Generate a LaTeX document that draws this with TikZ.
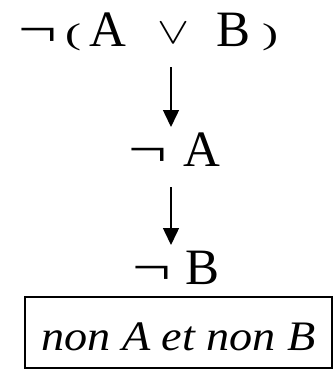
\RequirePackage{fix-cm}
\documentclass[tikz,border=0pt]{standalone}
\usepackage{fontspec}
\setmainfont{LiberationSerif}[Extension=.ttf,UprightFont=*-Regular,ItalicFont=*-Italic,BoldFont=*-Bold]
\usetikzlibrary{arrows.meta}
\begin{document}
\begin{tikzpicture}[x=1pt,y=-1pt,
  big/.style={inner sep=0pt,anchor=base,font=\fontsize{51}{51}\selectfont},
  par/.style={inner sep=0pt,anchor=base,font=\fontsize{30}{30}\selectfont},
  arr/.style={line width=1.5pt,-{Triangle[length=17pt,width=16pt]}},
  boxst/.style={draw,line width=1.5pt,inner sep=0pt,text height=53pt,text depth=18pt,minimum width=307pt}]
\useasboundingbox (0,0) rectangle (334,370);
% top line
\node[big] (neg0) at (38,46) {\scalebox{1.35}[1]{¬}};
\node[par] (lp) at (73,44) {\scalebox{1.6}[1]{(}};
\node[big] (tA) at (108,46) {A};
\node[inner sep=0pt,anchor=base,font=\fontsize{37}{37}\selectfont] (vee) at (173.5,43) {\scalebox{1.3}[1]{$\vee$}};
\node[big] (tB) at (234,46) {B};
\node[par] (rp) at (270,44) {\scalebox{1.6}[1]{)}};
% second line
\node[big] (neg1) at (148,166) {\scalebox{1.35}[1]{¬}};
\node[big] (nA) at (201.5,166) {A};
% third line
\node[big] (neg2) at (151.5,284) {\scalebox{1.35}[1]{¬}};
\node[big] (nB) at (203,284) {B};
% box
\node[boxst,font=\fontsize{42}{42}\selectfont\itshape] (res) at (178.5,332.5) {\scalebox{1.1}[1]{non A et non B}};
% arrows
\coordinate (a1s) at (171,67);
\coordinate (a1e) at (171,127);
\coordinate (a2s) at (171,187);
\coordinate (a2e) at (171,245);
\draw[arr] (a1s) -- (a1e);
\draw[arr] (a2s) -- (a2e);
\end{tikzpicture}
\end{document}
